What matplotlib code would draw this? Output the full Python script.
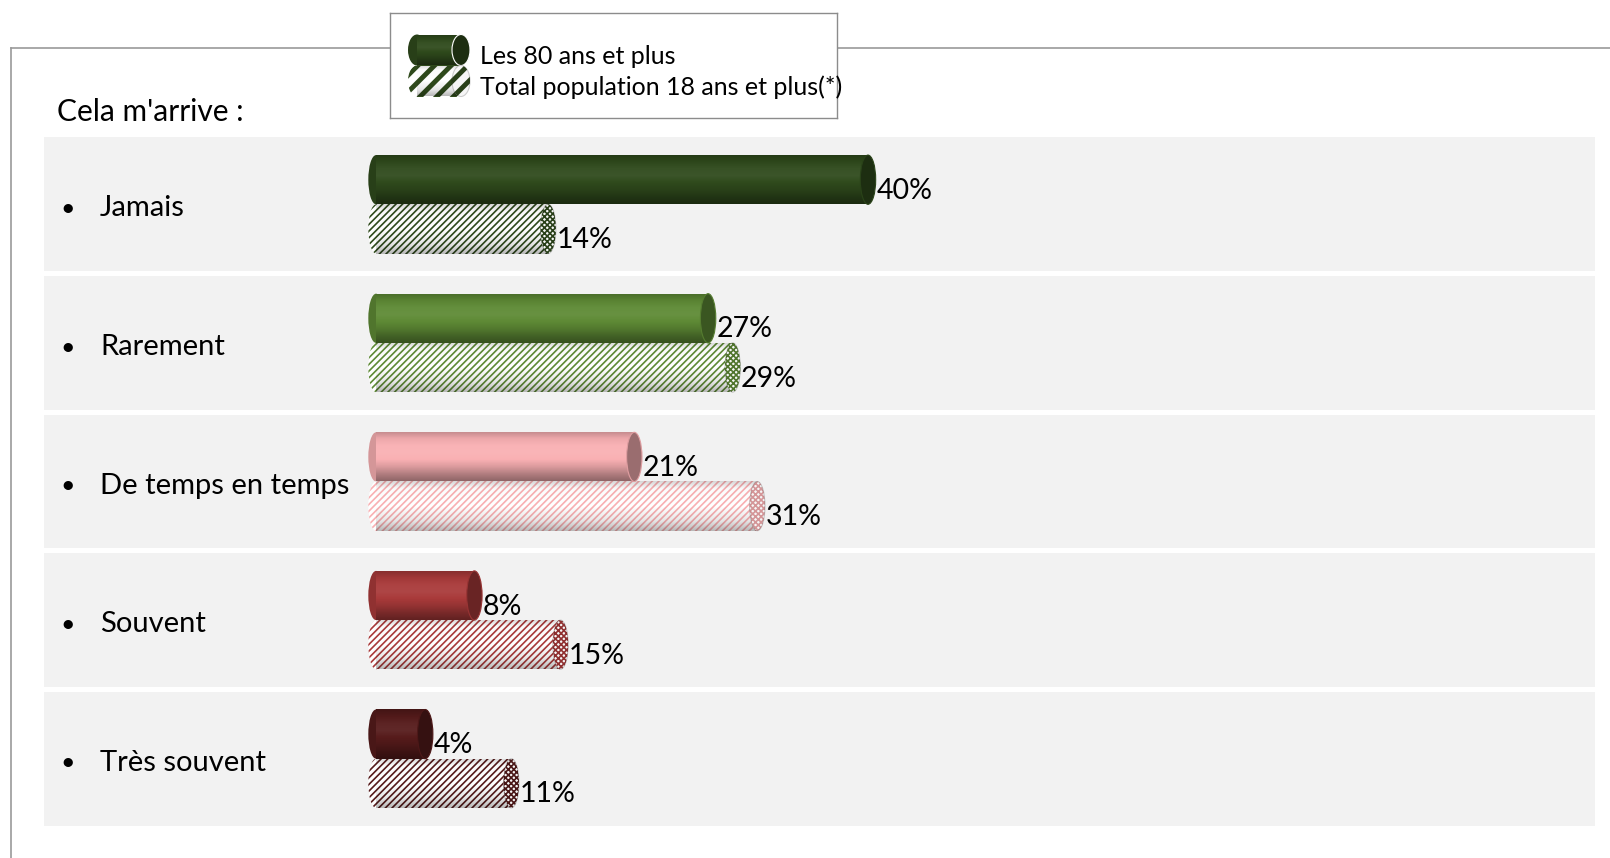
import numpy as np
import matplotlib.pyplot as plt
from matplotlib.patches import Ellipse
from matplotlib.lines import Line2D
from matplotlib.colors import to_rgb, LinearSegmentedColormap

plt.rcParams['font.family'] = ['Lato', 'DejaVu Sans']
plt.rcParams['hatch.linewidth'] = 1.2

# Survey answers, in percent
categories = ['Jamais', 'Rarement', 'De temps en temps', 'Souvent', 'Très souvent']
age_80_plus = [40, 27, 21, 8, 4]
total_18_plus = [14, 29, 31, 15, 11]
series_labels = ['Les 80 ans et plus', 'Total population 18 ans et plus(*)']
bar_colors = ['#2f4a1c', '#5e8a35', '#f9b0b3', '#a93a3a', '#561b1b']

W, H = 1610, 858
BAR_H = 0.355
CAP_W = 1.25


def fig_box(x0, y0, x1, y1):
    # pixel box (top-left origin) -> figure fraction rect
    return [x0 / W, 1 - y1 / H, (x1 - x0) / W, (y1 - y0) / H]


def shade(color, k):
    c = np.array(to_rgb(color))
    if k <= 1:
        return tuple(c * k)
    return tuple(c + (1 - c) * (k - 1))


def overlay(ax, bar, rgba, z):
    img = ax.imshow(rgba, extent=(0, 1, 1, 0), aspect='auto', zorder=z,
                    interpolation='bilinear')
    bb = bar.get_bbox()
    img.set_extent((bb.x0, bb.x1, bb.y1, bb.y0))
    img.set_clip_path(bar)


def solid_cylinder(ax, bar, color, cap_w, z=3, rim='auto'):
    prof = [0.78, 0.95, 1.04, 1.06, 1.0, 0.88, 0.72, 0.58]
    cmap = LinearSegmentedColormap.from_list('cyl', [shade(color, k) for k in prof])
    grad = cmap(np.linspace(0, 1, 80)).reshape(80, 1, 4)
    overlay(ax, bar, grad, z)
    bb = bar.get_bbox()
    yc, h = (bb.y0 + bb.y1) / 2, abs(bb.y1 - bb.y0)
    ax.add_patch(Ellipse((bb.x0, yc), cap_w, h, facecolor=shade(color, 0.85),
                         edgecolor='none', zorder=z - 1.5))
    rim = shade(color, 0.9) if rim == 'auto' else rim
    ax.add_patch(Ellipse((bb.x1, yc), cap_w, h, facecolor=shade(color, 0.62),
                         edgecolor=rim, linewidth=0.8, zorder=z + 0.5))


def hatched_cylinder(ax, bar, color, cap_w, z=3, hatch='/////', cap_hatch='xxxxxx',
                     hatch_lw=None):
    alpha = np.interp(np.linspace(0, 1, 80), [0, 0.15, 0.5, 0.8, 1],
                      [0.16, 0.02, 0.0, 0.1, 0.28])
    rgba = np.zeros((80, 1, 4))
    rgba[:, 0, 3] = alpha
    overlay(ax, bar, rgba, z)
    bb = bar.get_bbox()
    yc, h = (bb.y0 + bb.y1) / 2, abs(bb.y1 - bb.y0)
    left = Ellipse((bb.x0, yc), cap_w, h, facecolor='white', edgecolor=color,
                   hatch=hatch, linewidth=0, zorder=z - 1.5)
    cap = Ellipse((bb.x1, yc), cap_w, h, facecolor='#f6f6f6',
                  edgecolor=shade(color, 0.85), hatch=cap_hatch, linewidth=0,
                  zorder=z + 0.5)
    rim = Ellipse((bb.x1, yc), cap_w, h, facecolor='none',
                  edgecolor=(0, 0, 0, 0.18), linewidth=0.8, zorder=z + 0.6)
    for p in (left, cap):
        if hatch_lw and hasattr(p, 'set_hatch_linewidth'):
            p.set_hatch_linewidth(hatch_lw)
    for p in (left, cap, rim):
        ax.add_patch(p)


fig = plt.figure(figsize=(W / 100, H / 100), dpi=100)

# outer frame (top and left edges)
fig.add_artist(Line2D([11 / W, 1.01], [1 - 48 / H] * 2, color='#9a9a9a', lw=1.2))
fig.add_artist(Line2D([11 / W, 11 / W], [1 - 48 / H, -0.01], color='#9a9a9a', lw=1.2))

ax = fig.add_axes(fig_box(44, 135, 1595, 828))
y = np.arange(len(categories))
x_px0, px_per_pct = 376, 12.3
ax.set_xlim((44 - x_px0) / px_per_pct, (1595 - x_px0) / px_per_pct)
ax.set_ylim(len(categories) - 0.5, -0.5)
ax.axis('off')

for i in y:
    ax.axhspan(i - 0.483, i + 0.483, color='#f2f2f2', lw=0, zorder=0)

bars_a = ax.barh(y - BAR_H / 2, age_80_plus, height=BAR_H, color=bar_colors, lw=0, zorder=2)
bars_b = ax.barh(y + BAR_H / 2, total_18_plus, height=BAR_H, color='white',
                 edgecolor=bar_colors, hatch='/////', lw=0, zorder=2)

for bar, color in zip(bars_a, bar_colors):
    solid_cylinder(ax, bar, color, CAP_W)
for bar, color in zip(bars_b, bar_colors):
    hatched_cylinder(ax, bar, color, CAP_W)

for i, (a, b) in enumerate(zip(age_80_plus, total_18_plus)):
    ax.text(a + CAP_W / 2 + 0.05, i - BAR_H / 2 + 0.08, f'{a}%', fontsize=20.5,
            va='center', ha='left', zorder=6)
    ax.text(b + CAP_W / 2 + 0.05, i + BAR_H / 2 + 0.08, f'{b}%', fontsize=20.5,
            va='center', ha='left', zorder=6)

lab_tr = ax.get_yaxis_transform()
for i, name in enumerate(categories):
    ax.text(0.0105, i + 0.03, '•', transform=lab_tr, fontsize=18, va='center', ha='left')
    ax.text(0.0361, i + 0.03, name, transform=lab_tr, fontsize=21, va='center', ha='left')

fig.text(57 / W, 1 - 112 / H, "Cela m'arrive :", fontsize=21.5, va='center', ha='left')

# legend box with cylinder keys
lg = fig.add_axes(fig_box(390, 13, 837, 118))
lg.set_xlim(0, 447)
lg.set_ylim(105, 0)
lg.set_xticks([])
lg.set_yticks([])
lg.set_facecolor('white')
lg.set_zorder(5)
for s in lg.spines.values():
    s.set_color('#8c8c8c')
    s.set_linewidth(1.0)
key_color = bar_colors[0]
key_a = lg.barh([37], [44], left=27, height=31, color=key_color, lw=0, zorder=2)
key_b = lg.barh([68], [44], left=27, height=31, color='white', edgecolor=key_color,
                hatch='//', lw=0, zorder=2)
if hasattr(key_b[0], 'set_hatch_linewidth'):
    key_b[0].set_hatch_linewidth(3.5)
solid_cylinder(lg, key_a[0], key_color, 18, rim='white')
hatched_cylinder(lg, key_b[0], key_color, 18, hatch='//', cap_hatch='//', hatch_lw=3.5)
lg.text(90, 43, series_labels[0], fontsize=18, va='center', ha='left')
lg.text(90, 74, series_labels[1], fontsize=18, va='center', ha='left', clip_on=False)

fig.savefig('out.png', dpi=100)
